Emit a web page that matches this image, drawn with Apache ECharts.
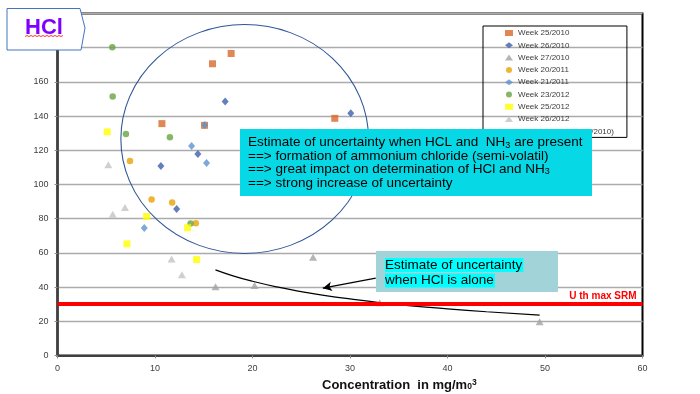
<!DOCTYPE html>
<html><head><meta charset="utf-8">
<script src="https://cdn.jsdelivr.net/npm/echarts@6/dist/echarts.min.js"></script>
<style>html,body{margin:0;padding:0;background:#fff}#c{width:700px;height:394px}</style>
</head><body><div id="c"></div>
<script>
// ---- data ----
const seriesNames = ['Week 25/2010','Week 26/2010','Week 27/2010','Week 20/2011','Week 21/2011','Week 23/2012','Week 25/2012','Week 26/2012'];
const trendName = 'Puissance (Week 27/2010)';
const week25_2010 = [[17.81,176.6],[15.9,170.6],[28.44,138.7],[10.71,135.6],[15.08,134.6]];
const week26_2010 = [[17.2,148.6],[30.08,141.6],[14.4,117.8],[10.6,110.8],[12.22,85.7]];
const week27_2010 = [[16.21,40.2],[20.21,41.0],[26.21,57.5],[33.05,30.8],[49.45,19.7]];
const week20_2011 = [[7.43,113.8],[9.65,91.2],[11.76,89.5],[14.19,77.4]];
const week21_2011 = [[15.1,134.8],[13.75,122.5],[15.29,112.6],[8.9,74.5]];
const week23_2012 = [[5.62,180.3],[5.66,151.5],[7.02,129.5],[11.53,127.6],[13.65,77.2]];
const week25_2012 = [[5.1,130.8],[9.14,81.3],[13.34,74.7],[7.12,65.3],[14.27,56.1]];
const week26_2012 = [[5.21,111.6],[6.92,86.5],[5.66,82.6],[11.7,56.4],[12.76,47.2]];
const powerTrend = [[16.2,50.1],[18,46.6],[20,43.4],[22.5,40.1],[25,37.4],[27.5,35.0],[30,33.1],[33,31.0],[36,29.2],[40,27.3],[44,25.6],[49.45,23.6]];
const limitValue = 30;
const limitLabel = 'U th max SRM';
const xRange = [0, 60, 10];
const yRange = [0, 200, 20];
// annotation anchors in data units
const ellipseCenter = [19.2, 126.6];
const ellipseRadii = [12.7, 66.9];
const arrowFrom = [32.64, 45.3];
const arrowTo = [27.21, 39.4];

const FF = 'Liberation Sans, Arial, sans-serif';
function sc(name, data, symbol, size, color) {
  return {type:'scatter', name, data, symbol, symbolSize:size, itemStyle:{color}, silent:true};
}
const option = {
  animation:false,
  backgroundColor:'#fff',
  grid:{left:57.5, right:57.5, top:13.5, bottom:38.5, show:true, borderColor:'#000', borderWidth:2},
  xAxis:{type:'value', min:xRange[0], max:xRange[1], interval:xRange[2],
    axisLine:{show:true, onZero:false, lineStyle:{color:'#404040', width:2}},
    axisTick:{show:true, length:3, lineStyle:{color:'#909090'}},
    axisLabel:{fontSize:9, color:'#404040', margin:9, fontFamily:FF},
    splitLine:{show:false}},
  yAxis:{type:'value', min:yRange[0], max:yRange[1], interval:yRange[2],
    axisLine:{show:true, onZero:false, lineStyle:{color:'#404040', width:2.5}},
    axisTick:{show:true, length:3, lineStyle:{color:'#909090'}},
    axisLabel:{fontSize:9, color:'#404040', margin:9, fontFamily:FF},
    splitLine:{show:true, lineStyle:{color:'#ababab', width:1.3}}},
  legend:{orient:'vertical', left:483, top:26, data:[...seriesNames, trendName],
    itemWidth:8, itemHeight:6, itemGap:2.3, padding:[2,13,1,21],
    borderColor:'#000', borderWidth:1,
    textStyle:{fontSize:8, color:'#3a3a3a', fontFamily:FF, lineHeight:10}},
  series:[
    sc(seriesNames[0], week25_2010, 'rect', 7, '#D9692B'),
    sc(seriesNames[1], week26_2010, 'diamond', [7,8], '#3D5FAD'),
    sc(seriesNames[2], week27_2010, 'triangle', [8,7], '#A3A3A3'),
    sc(seriesNames[3], week20_2011, 'circle', 6.5, '#E8A202'),
    sc(seriesNames[4], week21_2011, 'diamond', [7,8], '#5B93CF'),
    sc(seriesNames[5], week23_2012, 'circle', 6.5, '#6AA443'),
    sc(seriesNames[6], week25_2012, 'rect', 7, '#FFFF00'),
    sc(seriesNames[7], week26_2012, 'triangle', [8,7], '#C3C3C3'),
    {type:'line', name:trendName, data:powerTrend, smooth:true, symbol:'none', silent:true,
     itemStyle:{color:'#000'}, lineStyle:{color:'#000', width:1.2}, z:3},
    {type:'line', name:'limit', data:[], silent:true, z:4,
     markLine:{silent:true, symbol:['none','none'],
       lineStyle:{color:'#ff0000', width:4, type:'solid'},
       label:{show:true, position:'insideEndTop', formatter:limitLabel, color:'#ff0000',
              fontWeight:'bold', fontSize:10, fontFamily:FF, distance:[6,3]},
       data:[{yAxis:limitValue}]}},
    {type:'line', name:'arrow', data:[], silent:true, z:5,
     markLine:{silent:true, symbol:['none','arrow'], symbolSize:[7,9],
       lineStyle:{color:'#000', width:1.3, type:'solid'}, label:{show:false},
       data:[[{coord:arrowFrom},{coord:arrowTo}]]}}
  ]
};
const chart = echarts.init(document.getElementById('c'));
chart.setOption(option);

const c = chart.convertToPixel({gridIndex:0}, ellipseCenter);
const e = chart.convertToPixel({gridIndex:0}, [ellipseCenter[0]+ellipseRadii[0], ellipseCenter[1]-ellipseRadii[1]]);
const rx = e[0]-c[0], ry = e[1]-c[1];

const txt = (x,y,rich,parts,z) => ({type:'text', x, y, z,
  style:{text:parts, rich, fill:'#000', font:'13.5px '+FF, verticalAlign:'middle', align:'left'}});
const rich1 = {n:{fontSize:13.5, fontFamily:FF, fill:'#000'}, s:{fontSize:9, fontFamily:FF, fill:'#000', verticalAlign:'bottom', padding:[0,0,0,0]}};

chart.setOption({graphic:[
  {type:'circle', x:c[0], y:c[1], scaleX:rx/ry, scaleY:1, z:50, shape:{cx:0, cy:0, r:ry},
   style:{fill:'none', stroke:'#2F5597', lineWidth:1, strokeNoScale:true}},
  // big cyan note
  {type:'rect', z:100, shape:{x:240, y:129, width:352, height:67}, style:{fill:'#07D8E5'}},
  txt(248, 142.7, rich1, '{n|Estimate of uncertainty when HCL and  NH}{s|3}{n| are present}', 101),
  txt(248, 156, rich1, '{n|==> formation of ammonium chloride (semi-volatil)}', 101),
  txt(248, 169.5, rich1, '{n|==> great impact on determination of HCl and NH}{s|3}', 101),
  txt(248, 183.3, rich1, '{n|==> strong increase of uncertainty}', 101),
  // small note
  {type:'rect', z:100, shape:{x:376, y:251, width:182, height:41}, style:{fill:'#A2D3D8'}},
  {type:'text', z:101, x:385, y:265, style:{text:'Estimate of uncertainty', font:'13.5px '+FF, fill:'#000', backgroundColor:'#00FFFF', verticalAlign:'middle', padding:[0,1,0,0]}},
  {type:'text', z:101, x:385, y:280.5, style:{text:'when HCl is alone', font:'13.5px '+FF, fill:'#000', backgroundColor:'#00FFFF', verticalAlign:'middle', padding:[0,1,0,0]}},
  // HCl tag
  {type:'polygon', z:100, shape:{points:[[7,8.5],[80,8.5],[85,28],[81,50],[7,50]]}, style:{fill:'#fff', stroke:'#4472C4', lineWidth:1}},
  {type:'text', z:101, x:44, y:27.5, style:{text:'HCl', font:'bold 22px '+FF, fill:'#8000FF', align:'center', verticalAlign:'middle'}},
  {type:'polyline', z:101, shape:{points:[[25,36.5],[27,35.5],[29,36.5],[31,35.5],[33,36.5],[35,35.5],[37,36.5],[39,35.5],[41,36.5],[43,35.5],[45,36.5],[47,35.5],[49,36.5],[51,35.5],[53,36.5],[55,35.5],[57,36.5],[59,35.5],[61,36.5],[63,35.5]]}, style:{stroke:'#ff0000', lineWidth:0.8, fill:'none'}},
  // x axis title
  {type:'text', z:101, x:322, y:385, style:{text:'{n|Concentration  in mg/m}{s|0}{p|3}',
    rich:{n:{fontSize:13, fontWeight:'bold', fontFamily:FF, fill:'#111'},
          s:{fontSize:8.5, fontWeight:'bold', fontFamily:FF, fill:'#111', verticalAlign:'bottom'},
          p:{fontSize:8.5, fontWeight:'bold', fontFamily:FF, fill:'#111', verticalAlign:'top'}},
    verticalAlign:'middle', align:'left'}}
]});
</script></body></html>
